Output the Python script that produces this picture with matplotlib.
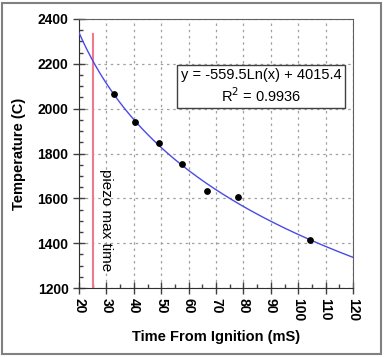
import numpy as np
import matplotlib.pyplot as plt
from matplotlib.ticker import MultipleLocator
from matplotlib.patches import Rectangle

plt.rcParams['font.family'] = ['Liberation Sans', 'DejaVu Sans']

# measured points
time_ms = [32.7, 40.6, 49.2, 57.6, 66.6, 77.9, 104.3]
temp_c = [2064, 1939, 1847, 1751, 1634, 1604, 1413]

# log fit shown on the chart
fit_a = -559.5
fit_b = 4015.4
piezo_time = 25
piezo_top = 2333

fig = plt.figure(figsize=(3.84, 3.57), dpi=100)
ax = fig.add_axes([79/384, 1 - 288/357, 274/384, 269/357])

xs = np.linspace(20, 120, 200)
ax.plot(xs, fit_a * np.log(xs) + fit_b, color='#4a4ae6', lw=1.0, zorder=3)
ax.scatter(time_ms, temp_c, s=15, color='black', zorder=4)
ax.plot([piezo_time, piezo_time], [1200, piezo_top], color='#f07a8a', lw=1.5, zorder=2)
ax.text(30, 1730, 'piezo max time', rotation=-90, ha='center', va='top', fontsize=11)

ax.text(86.4, 2099, 'y = -559.5Ln(x) + 4015.4\nR$^2$ = 0.9936', ha='center', va='center',
        fontsize=10.5, linespacing=1.25,
        bbox=dict(boxstyle='square,pad=0.25', fc='white', ec='#404040', lw=1.0), zorder=5)

ax.set_xlim(20, 120)
ax.set_ylim(1200, 2400)
ax.xaxis.set_major_locator(MultipleLocator(10))
ax.xaxis.set_minor_locator(MultipleLocator(5))
ax.yaxis.set_major_locator(MultipleLocator(200))
ax.yaxis.set_minor_locator(MultipleLocator(50))
ax.tick_params(which='major', direction='inout', length=8, width=1, color='#404040', labelsize=10)
ax.tick_params(which='minor', direction='in', length=3, width=1, color='#404040')
ax.tick_params(axis='x', labelrotation=-90)
for lab in ax.get_xticklabels() + ax.get_yticklabels():
    lab.set_fontweight('bold')
ax.grid(True, which='major', ls=(0, (2, 3)), color='#a0a0a0', lw=0.9)
for s in ax.spines.values():
    s.set_color('#606060')
ax.spines['left'].set_color('#303030')
ax.spines['bottom'].set_color('#303030')

ax.set_xlabel('Time From Ignition (mS)', fontweight='bold', fontsize=10.5, labelpad=6)
ax.set_ylabel('Temperature (C)', fontweight='bold', fontsize=10.5, labelpad=8)

fig.patches.append(Rectangle((2/384, 3/357), 379/384, 351/357, transform=fig.transFigure,
                             fill=False, ec='#808080', lw=1.5))

fig.savefig('out.png', dpi=100)
